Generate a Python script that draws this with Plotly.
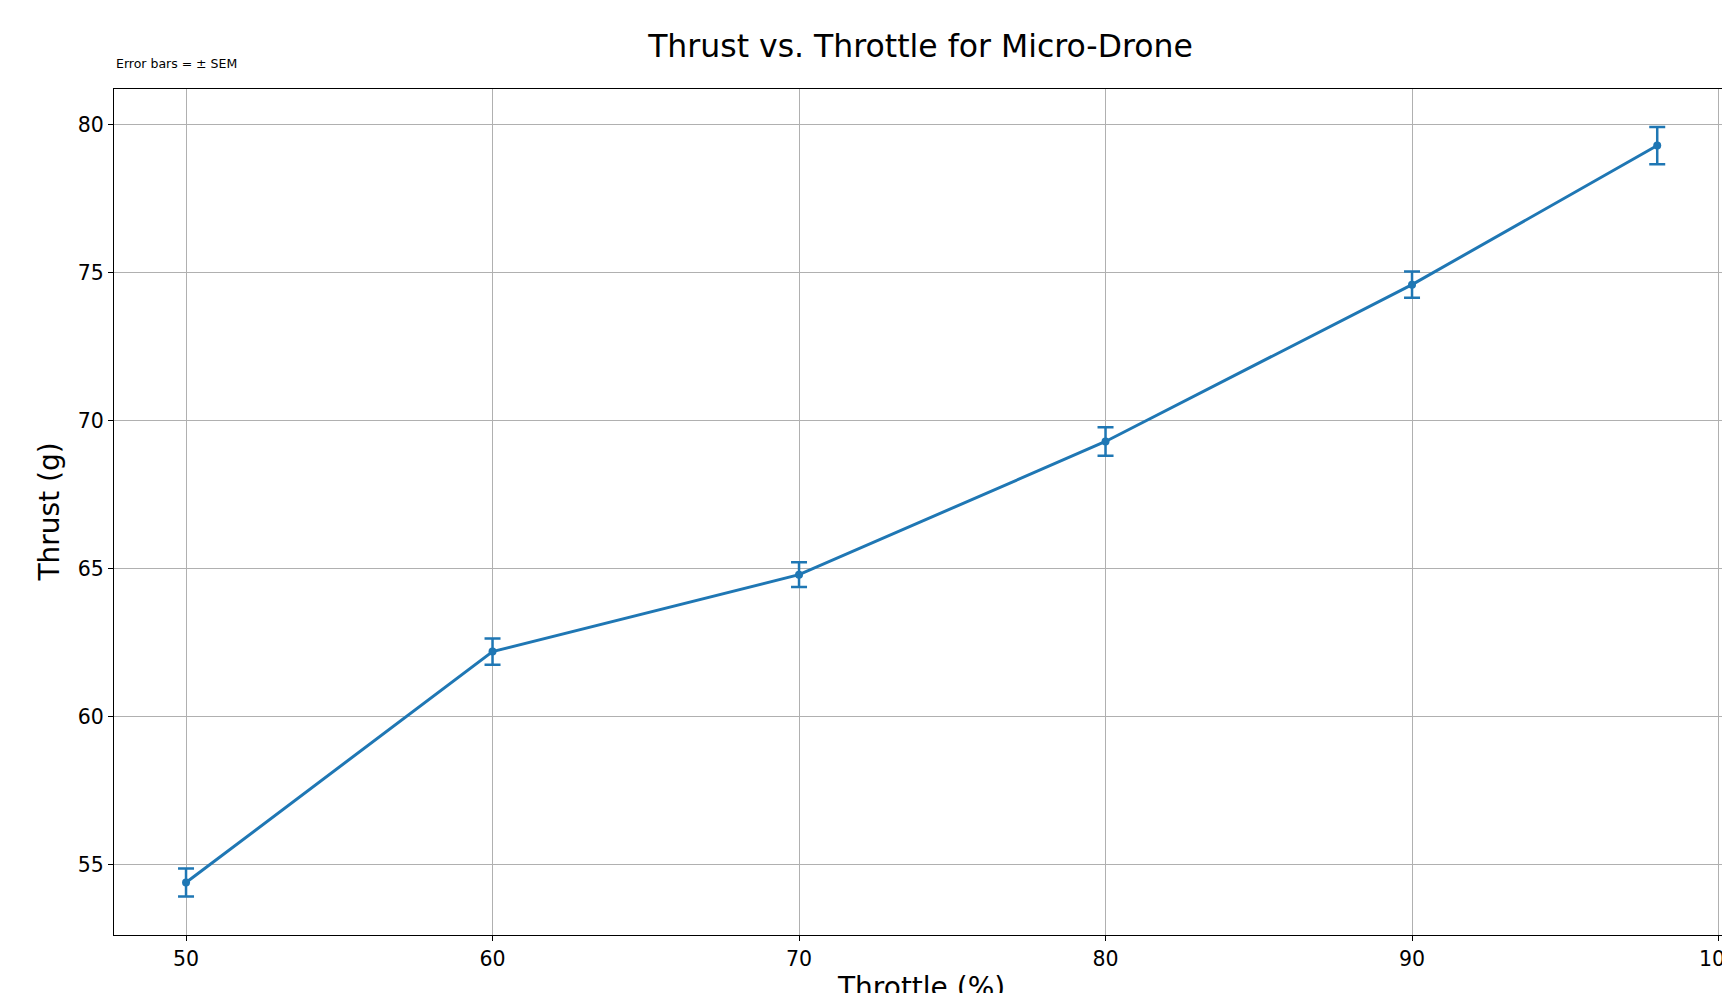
import plotly.graph_objects as go

throttle = [50, 60, 70, 80, 90, 98]
thrust = [54.4, 62.2, 64.8, 69.3, 74.6, 79.3]
sem = [0.47, 0.44, 0.42, 0.48, 0.44, 0.63]
x_ticks = [50, 60, 70, 80, 90, 100]
y_ticks = [55, 60, 65, 70, 75, 80]

BLUE = "#1f77b4"
FONT = "DejaVu Sans"

fig = go.Figure()
fig.add_trace(go.Scatter(
    x=throttle, y=thrust, mode="lines+markers",
    line=dict(color=BLUE, width=3),
    marker=dict(color=BLUE, size=8),
    error_y=dict(type="data", array=sem, visible=True, color=BLUE, thickness=2.5, width=8),
    showlegend=False,
))

W, H = 1722, 993
L, T = 114, 89
B = H - 935
pw = W - L
ph = H - T - B

fig.update_layout(
    width=W, height=H, autosize=False,
    margin=dict(l=L, r=0, t=T, b=B, pad=0),
    paper_bgcolor="white", plot_bgcolor="white",
    font=dict(family=FONT, color="black"),
    title=dict(text="Thrust vs. Throttle for Micro-Drone", font=dict(size=31.5, family=FONT, color="black"),
               x=920.5 / W, xref="container", xanchor="center",
               y=1 - 46 / H, yref="container", yanchor="middle"),
    xaxis=dict(range=[47.65, 47.65 + pw / 30.65], tickvals=x_ticks, ticktext=[str(v) for v in x_ticks],
               automargin=False,
               showgrid=True, gridcolor="#b0b0b0", gridwidth=1, zeroline=False,
               showline=True, linecolor="black", linewidth=1.2, mirror=True,
               ticks="outside", ticklen=5, tickcolor="black", tickwidth=1.2,
               ticklabeloverflow="allow",
               tickfont=dict(size=20.5, family=FONT, color="black")),
    yaxis=dict(range=[52.625, 81.21], tickvals=y_ticks, ticktext=[str(v) for v in y_ticks],
               automargin=False,
               showgrid=True, gridcolor="#b0b0b0", gridwidth=1, zeroline=False,
               showline=True, linecolor="black", linewidth=1.2, mirror=False,
               ticks="outside", ticklen=5, tickcolor="black", tickwidth=1.2,
               tickfont=dict(size=20.5, family=FONT, color="black")),
    annotations=[
        dict(text="Error bars = ± SEM", xref="paper", yref="paper",
             x=0, y=(935 - 63) / ph, xanchor="left", yanchor="middle", showarrow=False,
             font=dict(size=12.5, family=FONT, color="black")),
        dict(text="Thrust (g)", xref="paper", yref="paper", textangle=-90,
             x=(48.5 - L) / pw, y=0.5, xanchor="center", yanchor="middle", showarrow=False,
             font=dict(size=28, family=FONT, color="black")),
        dict(text="Throttle (%)", xref="paper", yref="paper",
             x=(920.7 - L) / pw, y=(935 - 987) / ph, xanchor="center", yanchor="middle", showarrow=False,
             font=dict(size=28, family=FONT, color="black")),
    ],
)

fig.write_html(
    "out.html",
    config={"responsive": False, "displayModeBar": False},
    post_script="document.body.style.margin='0';document.body.style.overflow='hidden';",
)
